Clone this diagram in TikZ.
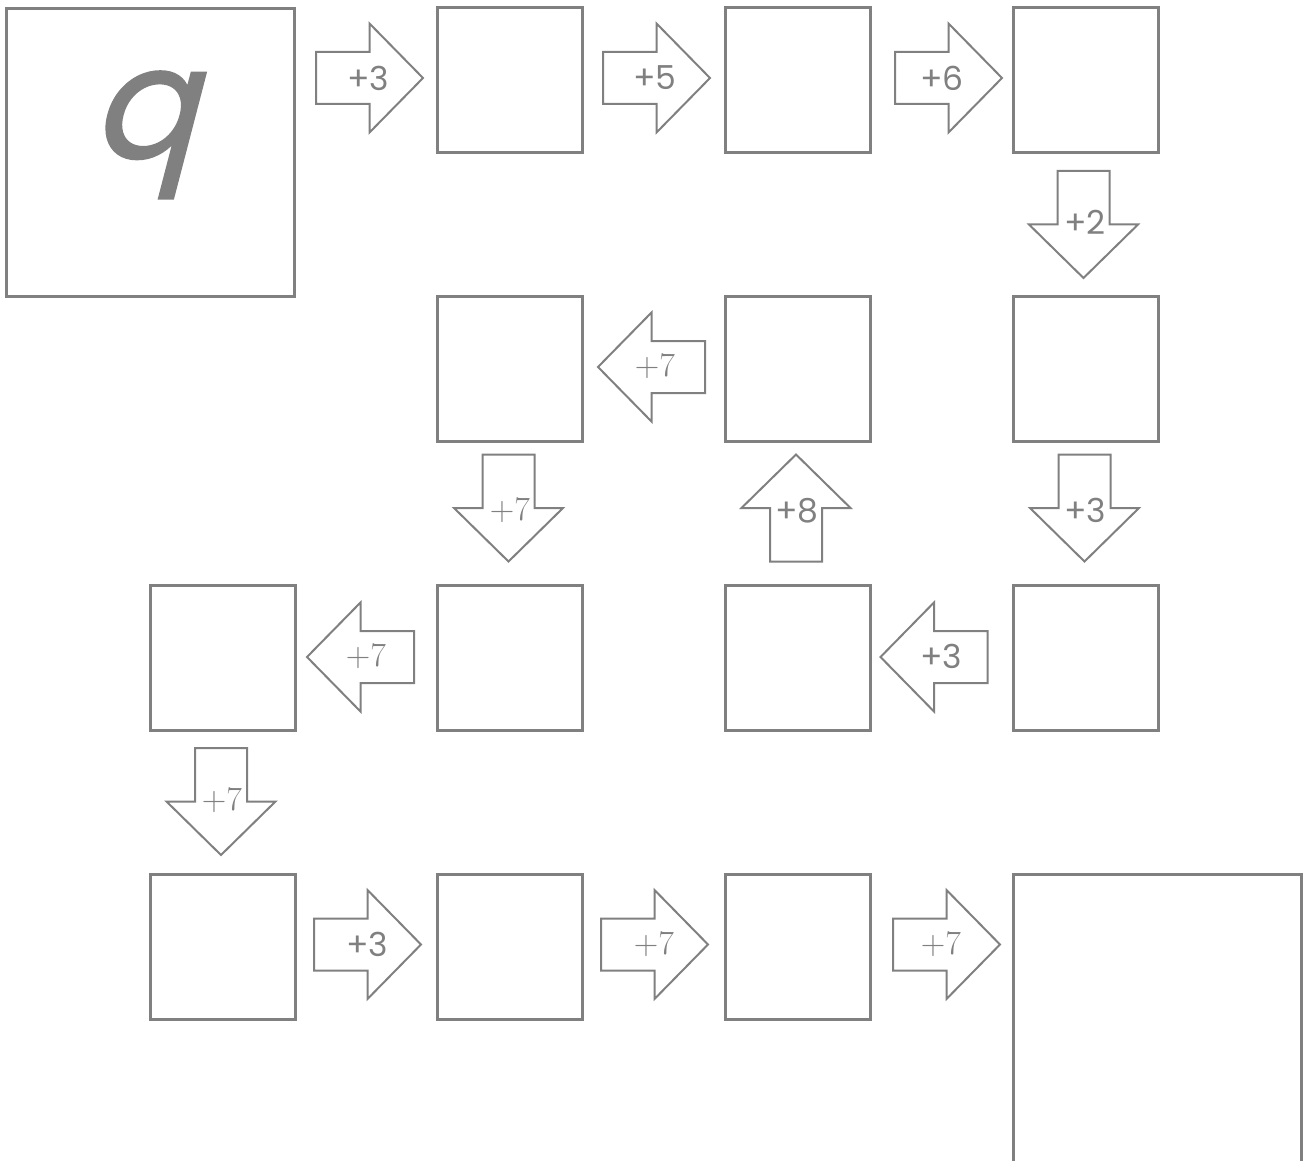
\documentclass[tikz,border=0pt]{standalone}
\usepackage{fontspec}
\newfontfamily\labfont{Poppins}
\newfontfamily\qfont{Poppins}[FakeSlant=0.26,FakeBold=1.2]
\definecolor{gc}{RGB}{128,128,128}
\tikzset{
  box/.style={draw=gc, line width=1.5pt, minimum size=72.5pt, inner sep=0pt, outer sep=0pt},
  bigbox/.style={box, minimum size=144pt},
  blk/.pic={\draw[gc, line width=1pt, line join=miter]
     (-53.5,-26)--(0,-26)--(0,-54.5)--(53.5,0)--(0,54.5)--(0,26)--(-53.5,26)--cycle;},
  lab/.style={text=gc, font=\labfont\fontsize{16.5}{16.5}\selectfont, inner sep=0pt},
  labr/.style={text=gc, font=\rmfamily\fontsize{17}{17}\selectfont, inner sep=0pt},
}
\begin{document}
\begin{tikzpicture}[x=0.5pt,y=-0.5pt]
\useasboundingbox (0,0) rectangle (1303,1161);
\clip (0,0) rectangle (1303,1161);
% boxes
\node[bigbox] (q) at (150.5,152.5) {};
\node[text=gc, font=\qfont\fontsize{78}{78}\selectfont, inner sep=0pt, anchor=base] (qt) at (143,158) {q};
\node[box] (a1) at (510,80.5) {};
\node[box] (a2) at (797.5,80.5) {};
\node[box] (a3) at (1085.5,80.5) {};
\node[box] (b1) at (510,369) {};
\node[box] (b2) at (797.5,369) {};
\node[box] (b3) at (1085.5,369) {};
\node[box] (c0) at (222.5,657.5) {};
\node[box] (c1) at (510,657.5) {};
\node[box] (c2) at (797.5,657.5) {};
\node[box] (c3) at (1085.5,657.5) {};
\node[box] (d0) at (222.5,946.5) {};
\node[box] (d1) at (510,946.5) {};
\node[box] (d2) at (797.5,946.5) {};
\node[bigbox, anchor=north west] (end) at (1013,874) {};
% arrows
\pic at (369.5,78) {blk};            \node[lab] (l1) at (368,78) {+3};
\pic at (656.5,78) {blk};            \node[lab] (l2) at (655,78) {+5};
\pic at (948.5,78) {blk};            \node[lab] (l3) at (942,78) {+6};
\pic[rotate=-90] at (1083.5,224.5) {blk}; \node[lab] (l4) at (1085,222) {+2};
\pic[rotate=180] at (651.5,367) {blk};    \node[labr] (l5) at (655,366) {+7};
\pic[rotate=-90] at (508.5,508) {blk};    \node[labr] (l6) at (510,510) {+7};
\pic[rotate=90] at (796,508) {blk};       \node[lab] (l7) at (797,511) {+8};
\pic[rotate=-90] at (1084.5,508) {blk};   \node[lab] (l8) at (1085,510) {+3};
\pic[rotate=180] at (934,657) {blk};      \node[lab] (l9) at (941,656) {+3};
\pic[rotate=180] at (360.5,657) {blk};    \node[labr] (l10) at (366,656) {+7};
\pic[rotate=-90] at (221,801.5) {blk};    \node[labr] (l11) at (222,800) {+7};
\pic at (367.5,944.5) {blk};         \node[lab] (l12) at (367,944) {+3};
\pic at (654.5,944.5) {blk};         \node[labr] (l13) at (654,944) {+7};
\pic at (946.5,944.5) {blk};         \node[labr] (l14) at (941,944) {+7};
\end{tikzpicture}
\end{document}
